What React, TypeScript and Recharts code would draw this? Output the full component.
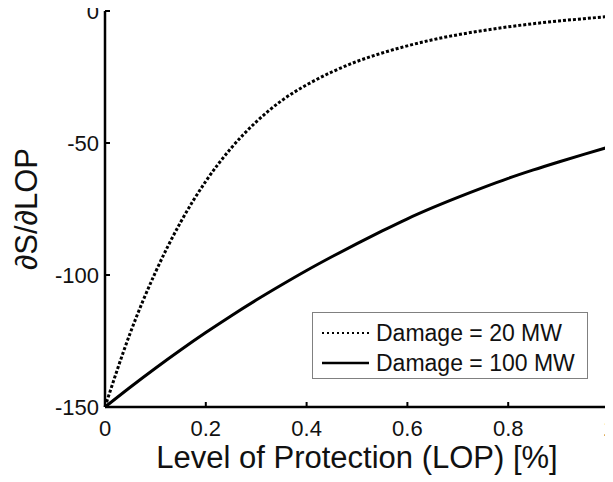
import React from 'react';
import { Label, Line, LineChart, XAxis, YAxis } from 'recharts';

const lop = [0, 0.05, 0.1, 0.15, 0.2, 0.25, 0.3, 0.35, 0.4, 0.45, 0.5, 0.55, 0.6, 0.65, 0.7, 0.75, 0.8, 0.85, 0.9, 0.95, 1];
const damage20 = [-150, -122, -99, -80, -64.5, -52, -42, -34, -28, -23.1, -19.1, -15.9, -13.2, -10.9, -9.0, -7.4, -6.0, -4.8, -3.8, -2.9, -2.1];
const damage100 = [-150, -142.5, -135.3, -128.4, -121.8, -115.5, -109.5, -103.8, -98.3, -93.1, -88.1, -83.3, -78.7, -74.5, -70.6, -66.9, -63.4, -60.2, -57.2, -54.3, -51.5];

const xTicks = [0, 0.2, 0.4, 0.6, 0.8, 1];
const yTicks = [-150, -100, -50, 0];

const series = [
  { key: 'd20', name: 'Damage = 20 MW', dash: '3 2', legendDash: '2 3' },
  { key: 'd100', name: 'Damage = 100 MW', dash: undefined, legendDash: undefined },
];

const data = lop.map((x, i) => ({ x, d20: damage20[i], d100: damage100[i] }));

const FONT = '"Liberation Sans", Arial, sans-serif';
const Y_GAP = 6;
const X_GAP = 13;

const YTick = (props: any) => {
  const { x, y, payload } = props;
  const ax = x + Y_GAP;
  return <g>
    <line x1={ax} y1={y} x2={ax + 5} y2={y} stroke="#000" strokeWidth={2}/>
    <text x={x} y={y} dy="0.355em" textAnchor="end" fontSize={22} fontFamily={FONT} fill="#111">{payload.value}</text>
  </g>;
};

const XTick = (props: any) => {
  const { x, y, payload } = props;
  const ay = y - X_GAP;
  return <g>
    <line x1={x} y1={ay} x2={x} y2={ay - 5} stroke="#000" strokeWidth={2}/>
    <text x={x} y={y} dy="0.71em" textAnchor="middle" fontSize={22} fontFamily={FONT} fill="#111">{payload.value}</text>
  </g>;
};

// legend box drawn over the chart, like the matlab one inside the axes
const LegendBox = () => <div style={{
  position: 'absolute', left: 312, top: 312, width: 274, height: 65,
  border: '1px solid #808080', background: '#fff',
  fontFamily: FONT, fontSize: 23, color: '#111'
}}>
  {series.map((s, i) => <div key={s.key} style={{
    position: 'absolute', left: 9, top: 5 + i * 30, height: 30,
    display: 'flex', alignItems: 'center', whiteSpace: 'nowrap'
  }}>
    <svg width={47} height={6}>
      <line x1={0} y1={3} x2={47} y2={3} stroke="#000" strokeWidth={s.legendDash ? 2 : 2.5} strokeDasharray={s.legendDash}/>
    </svg>
    <span style={{ marginLeft: 7, lineHeight: '30px' }}>{s.name}</span>
  </div>)}
</div>;

export default function App() {
  return <div style={{ position: 'relative', width: 613, height: 482, margin: '-8px 0 0 -8px' }}>
    <LineChart width={613} height={482} data={data} margin={{ top: 11, right: 4, left: 0, bottom: 0 }} style={{ overflow: 'visible' }}>
      <XAxis
        dataKey="x" type="number" domain={[0, 1]} ticks={xTicks} interval={0}
        tickSize={0} tickMargin={X_GAP} tick={<XTick/>}
        axisLine={{ stroke: '#000', strokeWidth: 2.5 }} height={75}>
        <Label content={(p: any) => <text
          x={p.viewBox.x + p.viewBox.width / 2} y={p.viewBox.y + 61}
          textAnchor="middle" fontSize={31} fontFamily={FONT} fill="#111">Level of Protection (LOP) [%]</text>}/>
      </XAxis>
      <YAxis
        type="number" domain={[-150, 0]} ticks={yTicks} interval={0}
        tickSize={0} tickMargin={Y_GAP} tick={<YTick/>}
        axisLine={{ stroke: '#000', strokeWidth: 2.5 }} width={105}>
        <Label content={(p: any) => {
          const cx = p.viewBox.x + 37;
          const cy = p.viewBox.y + p.viewBox.height / 2;
          return <text x={cx} y={cy} transform={`rotate(-90, ${cx}, ${cy})`}
            textAnchor="middle" fontSize={31} fontFamily={FONT} fill="#111">∂S/∂LOP</text>;
        }}/>
      </YAxis>
      {series.map(s => <Line
        key={s.key}
        type="monotone"
        dataKey={s.key}
        name={s.name}
        stroke="#000"
        strokeWidth={3}
        strokeDasharray={s.dash}
        dot={false}
        activeDot={false}
        isAnimationActive={false}/>)}
    </LineChart>
    <LegendBox/>
  </div>;
}
